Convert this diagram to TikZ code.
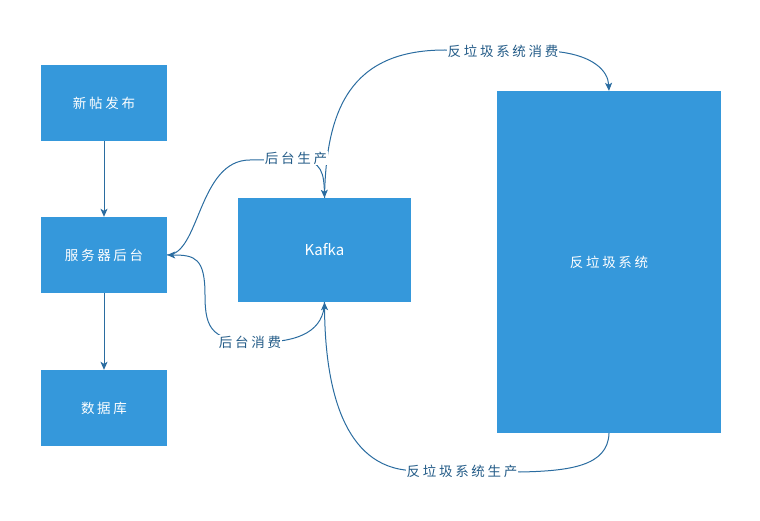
\documentclass[tikz,border=0pt]{standalone}
\usepackage{fontspec}
\setmainfont{Noto Sans CJK SC}
\newfontfamily\spaced[LetterSpace=20]{Noto Sans CJK SC}
\usepackage{tikz}
\usetikzlibrary{arrows.meta,positioning}
\definecolor{boxblue}{RGB}{53,152,219}
\definecolor{lineblue}{RGB}{42,108,160}

\begin{document}
\begin{tikzpicture}[x=1pt,y=-1pt,
  boxstyle/.style={rectangle,fill=boxblue,draw=none,text=white,font=\spaced\fontsize{13.5}{16}\selectfont,inner sep=0pt},
  edgestyle/.style={draw=lineblue,line width=1pt,-{Stealth[length=8pt,width=7pt,inset=2pt]}},
  tagstyle/.style={fill=white,text=lineblue!85!black,font=\spaced\fontsize{13.5}{16}\selectfont,inner sep=1pt}]

\useasboundingbox (0,0) rectangle (760,521);

\node[boxstyle,minimum width=126,minimum height=76] (post) at (104,103) {新帖发布};
\node[boxstyle,minimum width=126,minimum height=76] (server) at (104,255) {服务器后台};
\node[boxstyle,minimum width=126,minimum height=76] (db) at (104,408) {数据库};

\node[boxstyle,minimum width=173,minimum height=104,font=\fontsize{15}{18}\selectfont] (kafka) at (324.5,250) {Kafka};
\node[boxstyle,minimum width=224,minimum height=342] (spam) at (609,262) {反垃圾系统};

\draw[edgestyle] (post) -- (server);
\draw[edgestyle] (server) -- (db);

% backend produce / consume
\draw[edgestyle] (server.east) .. controls (200,255) and (198,160) .. (250,160) -- (300,160) .. controls (322,160) and (324,175) .. (kafka.north);
\draw[edgestyle] (kafka.south) .. controls (324,330) and (300,342) .. (262,342) .. controls (212,342) and (205,330) .. (205,295) .. controls (205,258) and (195,255) .. (server.east);

% anti-spam produce / consume
\draw[edgestyle] (kafka.north) .. controls (326,110) and (350,50) .. (445,50) -- (560,52) .. controls (592,56) and (608,70) .. (spam.north);
\draw[edgestyle] (spam.south) .. controls (608,466) and (570,471) .. (520,472) -- (405,470) .. controls (340,462) and (325,380) .. (kafka.south);

\node[tagstyle] (produce) at (296,158) {后台生产};
\node[tagstyle] (consume) at (250,342) {后台消费};
\node[tagstyle] (spamconsume) at (503,51) {反垃圾系统消费};
\node[tagstyle] (spamproduce) at (462,471) {反垃圾系统生产};

\end{tikzpicture}
\end{document}
